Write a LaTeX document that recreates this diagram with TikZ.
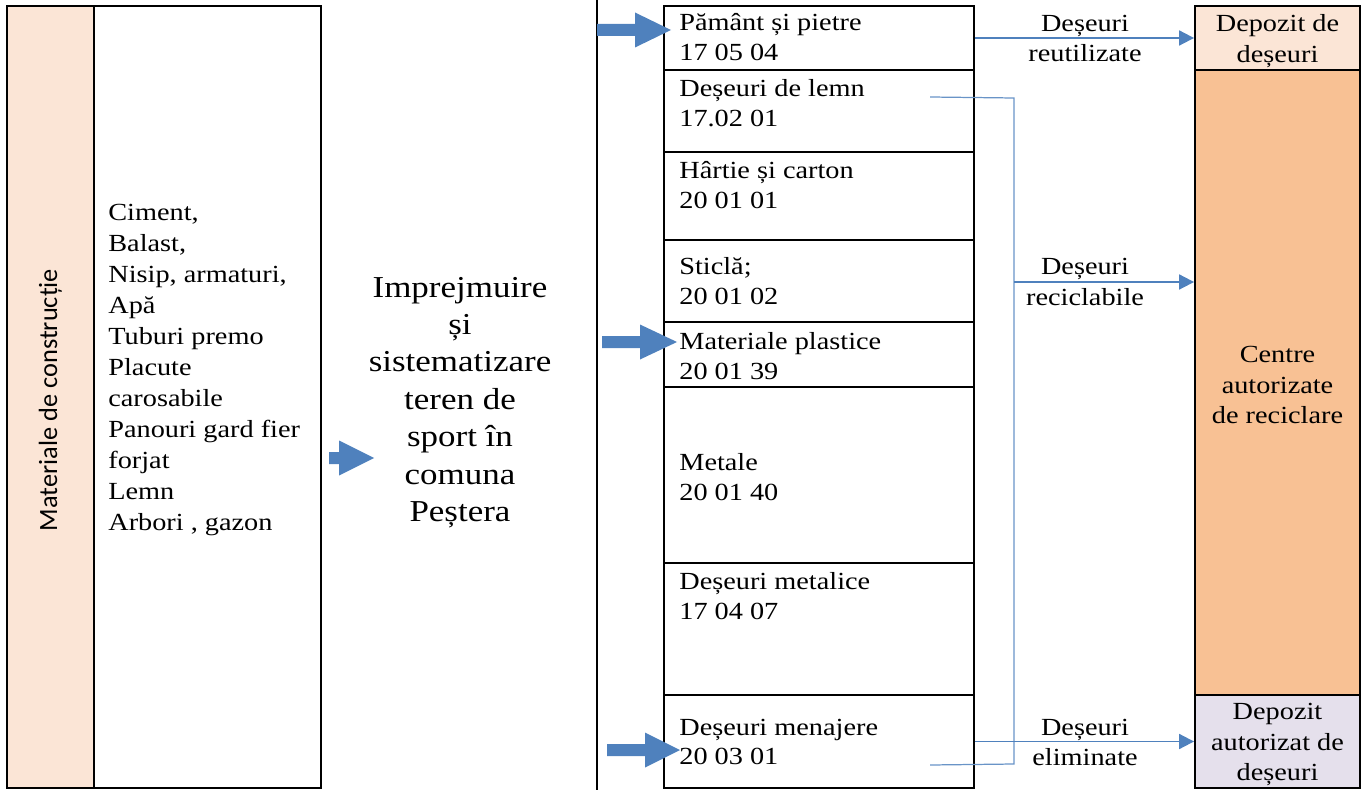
\documentclass[tikz,border=0pt]{standalone}
\usepackage{fontspec}
\setmainfont[FakeStretch=1.15]{Liberation Serif}
\newfontfamily\vertfont{Carlito}
\usetikzlibrary{arrows.meta}
\definecolor{peach}{HTML}{FBE5D6}
\definecolor{recorange}{HTML}{F8C194}
\definecolor{lavender}{HTML}{E5E0EC}
\definecolor{flowblue}{HTML}{4F81BD}

\begin{document}
\begin{tikzpicture}[x=0.02cm,y=-0.02cm,
	tbox/.style={draw,line width=1.1pt,inner sep=0pt},
	celltxt/.style={anchor=west,align=left,inner sep=0pt,font=\fontsize{14}{17}\selectfont},
	lbl/.style={align=center,inner sep=0pt,font=\fontsize{14}{17.5}\selectfont},
	flow/.style={flowblue,line width=1.1pt,-{Triangle[length=8.5pt,width=8.5pt]}},
	brline/.style={flowblue!85,line width=0.7pt},
	blockarrow/.style={fill=flowblue}]
	\useasboundingbox (0,0) rectangle (1368,790);
	\node[tbox,fill=peach,minimum width=1.74cm,minimum height=15.64cm] (mat) at (50.5,397) {};
	\node[tbox,minimum width=4.54cm,minimum height=15.64cm] (lst) at (207.5,397) {};
	\node[rotate=90,inner sep=0pt,font=\vertfont\fontsize{15}{18}\selectfont] (matlbl) at (50.5,400) {Materiale de construcție};
	\node[anchor=west,align=left,inner sep=0pt,font=\fontsize{14}{17.7}\selectfont] (lsttxt) at (108,370) {Ciment,\\Balast,\\Nisip, armaturi,\\Apă\\Tuburi premo\\Placute\\carosabile\\Panouri gard fier\\forjat\\Lemn\\Arbori , gazon};
	\node[align=center,inner sep=0pt,font=\fontsize{17.3}{21.3}\selectfont] (proj) at (460,402.5) {Imprejmuire\\și\\sistematizare\\teren de\\sport în\\comuna\\Peștera};
	\coordinate (vtop) at (597,0);
	\coordinate (vbot) at (597,790);
	\draw[line width=1.1pt] (vtop) -- (vbot);
	\foreach \ya/\yb [count=\k] in {6/70,70/152,152/240,240/322,322/387,387/563,563/695,695/788}{
		\node[tbox,minimum width=6.2cm,minimum height={0.02cm*(\yb-\ya)}] (c\k) at (819,{(\ya+\yb)/2}) {};
	}
	\foreach \k/\y/\txt in {1/37/{Pământ și pietre\\17 05 04},2/103/{Deșeuri de lemn\\17.02 01},3/185/{Hârtie și carton\\20 01 01},4/281/{Sticlă;\\20 01 02},5/356/{Materiale plastice\\20 01 39},6/477/{Metale\\20 01 40},7/596/{Deșeuri metalice\\17 04 07},8/742/{Deșeuri menajere\\20 03 01}}{
		\node[celltxt] (t\k) at (679,\y) {\txt};
	}
	\node[tbox,fill=peach,minimum width=3.3cm,minimum height=1.28cm] (dep) at (1277.5,38) {};
	\node[tbox,fill=recorange,minimum width=3.3cm,minimum height=12.5cm] (rec) at (1277.5,382.5) {};
	\node[tbox,fill=lavender,minimum width=3.3cm,minimum height=1.86cm] (dpa) at (1277.5,741.5) {};
	\node[lbl] (deptxt) at (1277.5,41) {Depozit de\\deșeuri};
	\node[lbl] (rectxt) at (1277.5,385) {Centre\\autorizate\\de reciclare};
	\node[lbl] (dpatxt) at (1277.5,744.5) {Depozit\\autorizat de\\deșeuri};
	\foreach \tx/\ty/\l/\h in {374/458/45/35,671/30/74/36,677/342/75/37,680/750/73/35}{
		\fill[blockarrow] (\tx,\ty) -- ++(-\h,-17.5) -- ++(0,11.5) -- ++({\h-\l},0) -- ++(0,12) -- ++({\l-\h},0) -- ++(0,11.5) -- cycle;
	}
	\coordinate (b1) at (930,97);
	\coordinate (b2) at (1014,98);
	\coordinate (b3) at (1014,764);
	\coordinate (b4) at (930,765);
	\coordinate (b5) at (1014,282);
	\draw[brline] (b1) -- (b2) -- (b3) -- (b4);
	\draw[flow] (c1.east) -- (dep.west);
	\draw[flow] (b5) -- (b5 -| rec.west);
	\draw[flow] (c8.east) -- (dpa.west);
	\node[lbl] (reut) at (1085,38.5) {Deșeuri\\reutilizate};
	\node[lbl] (recl) at (1085,282) {Deșeuri\\reciclabile};
	\node[lbl] (elim) at (1085,742.5) {Deșeuri\\eliminate};
\end{tikzpicture}
\end{document}
